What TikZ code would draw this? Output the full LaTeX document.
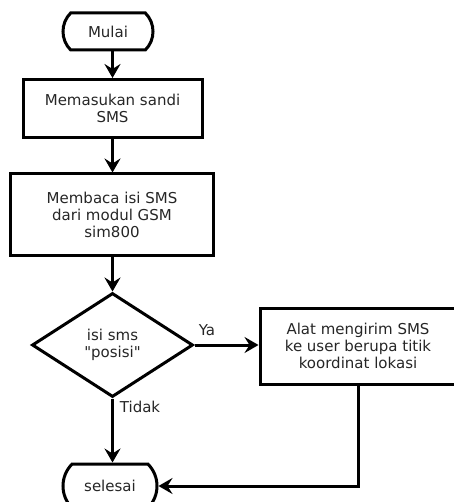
\documentclass[tikz,border=0pt]{standalone}
\usepackage{fontspec}
\setmainfont{DejaVu Sans}[Ligatures=TeXOff]
\usetikzlibrary{shapes.geometric,shapes.misc,arrows.meta}
\tikzset{
  base/.style={draw=black, line width=3pt, align=center, font=\fontsize{15}{17}\selectfont, text=black!85, inner sep=0pt},
  term/.style={base, rounded rectangle, rounded rectangle arc length=90},
  procbox/.style={base, rectangle},
  decide/.style={base, diamond},
  conn/.style={line width=3pt, -{Stealth[length=14pt,width=16pt,inset=5pt]}},
  lbl/.style={font=\fontsize{15}{17}\selectfont, text=black!85}
}
\begin{document}
\begin{tikzpicture}[x=1pt,y=-1pt]
\useasboundingbox (0,0) rectangle (453,502);
\node[term, minimum width=90pt, minimum height=37pt] (start) at (108,31.5) {Mulai};
\node[procbox, minimum width=179pt, minimum height=58pt] (b1) at (112.5,108.5) {Memasukan sandi\\SMS};
\node[procbox, minimum width=203pt, minimum height=81pt] (b2) at (112,214.5) {Membaca isi SMS\\dari modul GSM\\sim800};
\node[decide, minimum width=161pt, minimum height=104pt] (d) at (112.5,345) {isi sms\\"posisi"};
\node[procbox, minimum width=196pt, minimum height=76pt] (b3) at (358,346) {Alat mengirim SMS\\ke user berupa titik\\koordinat lokasi};
\node[term, minimum width=94pt, minimum height=44pt] (end) at (110,486) {selesai};
\draw[conn] (start.south -| b1) -- (b1.north);
\draw[conn] (b1.south) -- (b1.south |- b2.north);
\draw[conn] (b2.south -| d) -- (d.north);
\draw[conn] (d.east) -- (d.east -| b3.west);
\draw[conn] (d.south) -- (end.north -| d.south);
\draw[conn] (b3.south) |- (end.east);
\node[lbl] (ya) at (207,330) {Ya};
\node[lbl] (tidak) at (140,407) {Tidak};
\end{tikzpicture}
\end{document}
